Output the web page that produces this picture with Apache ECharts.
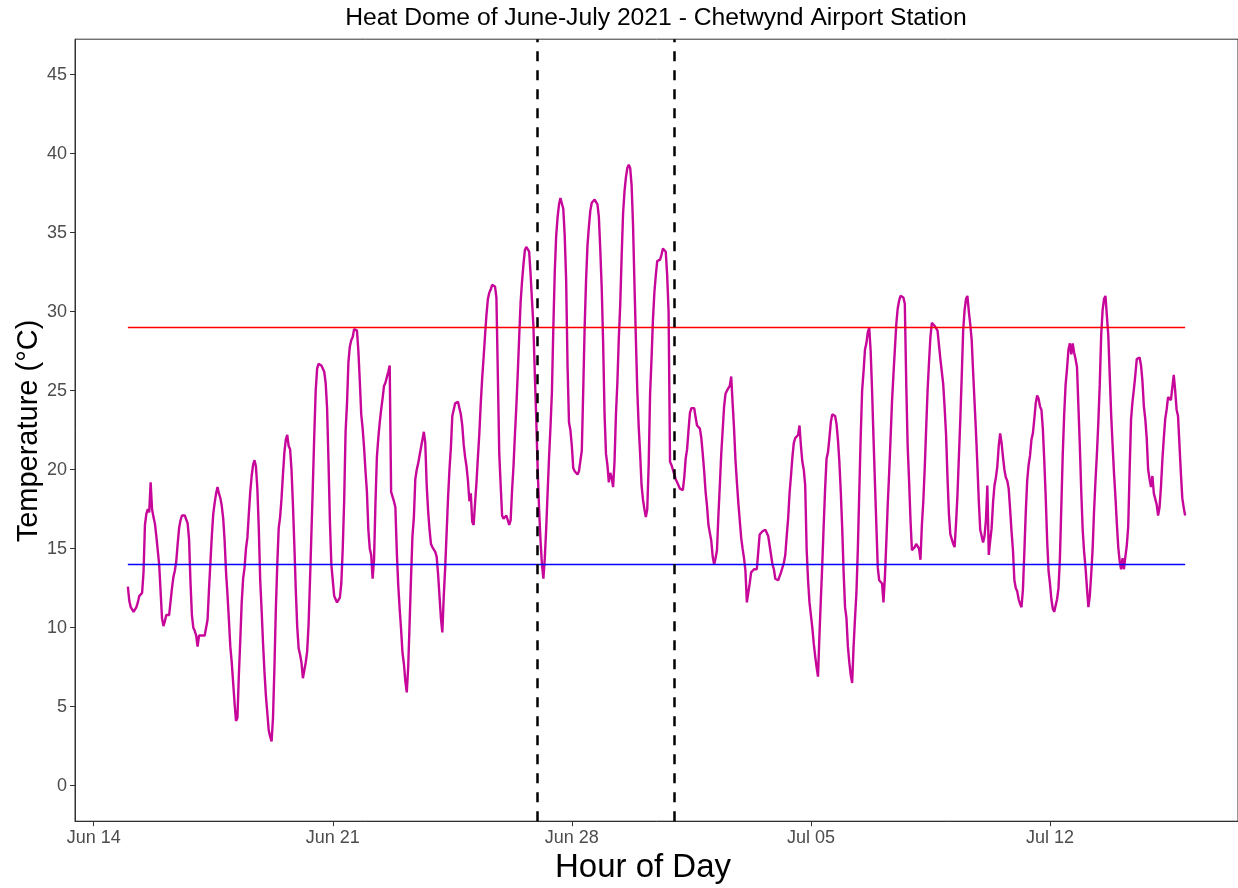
<!DOCTYPE html>
<html>
<head>
<meta charset="utf-8">
<title>Heat Dome - Chetwynd Airport</title>
<script src="https://cdn.jsdelivr.net/npm/echarts@6/dist/echarts.min.js"></script>
<style>
  html, body { margin: 0; padding: 0; background: #fff; }
  #chart { width: 1238px; height: 888px; }
</style>
</head>
<body>
<div id="chart"></div>
<script>
// hourly temperature (°C), one array per day, 00:00 .. 23:00
const jun15 = [12.6, 11.7, 11.3, 11.2, 11.0, 11.1, 11.3, 11.6, 12.0, 12.1, 12.2, 13.5, 16.5, 17.2, 17.5, 17.3, 19.2, 17.5, 17.0, 16.6, 15.8, 14.9, 14.0, 12.3];
const jun16 = [10.6, 10.1, 10.4, 10.8, 10.8, 10.8, 10.9, 12.5, 13.2, 13.6, 14.2, 15.3, 16.3, 16.8, 17.1, 17.1, 17.1, 17.0, 16.6, 15.6, 12.9, 10.8, 10.0, 9.8];
const jun17 = [9.5, 8.8, 9.5, 9.4, 9.5, 9.4, 9.5, 9.6, 10.5, 12.4, 14.1, 15.8, 17.2, 17.9, 18.5, 18.9, 18.5, 18.2, 17.7, 16.9, 15.5, 13.5, 12.1, 10.5];
const jun18 = [8.8, 7.8, 6.5, 5.2, 4.1, 4.3, 7.0, 9.2, 11.6, 13.1, 13.8, 15.0, 15.7, 17.2, 18.6, 19.6, 20.3, 20.6, 20.2, 18.8, 16.3, 13.0, 11.1, 9.0];
const jun19 = [7.2, 5.7, 4.6, 3.5, 3.1, 2.8, 4.3, 7.5, 11.2, 14.0, 16.3, 17.0, 18.2, 19.7, 21.1, 21.9, 22.2, 21.5, 21.3, 20.0, 17.8, 15.2, 12.4, 10.1];
const jun20 = [8.7, 8.3, 7.8, 6.8, 7.3, 7.8, 8.5, 10.2, 13.0, 16.0, 19.0, 22.2, 25.0, 26.4, 26.7, 26.7, 26.6, 26.7, 26.2, 25.5, 23.9, 20.5, 16.7, 14.0];
const jun21 = [13.0, 12.0, 11.8, 11.6, 11.7, 11.9, 12.8, 15.0, 18.0, 22.4, 24.2, 26.8, 27.8, 28.2, 28.4, 28.9, 28.9, 28.8, 27.5, 25.6, 23.5, 22.6, 21.4, 19.9];
const jun22 = [18.6, 16.2, 15.0, 14.6, 13.1, 14.3, 17.9, 20.8, 22.0, 23.0, 23.8, 24.5, 25.3, 25.5, 25.6, 26.2, 26.6, 18.6, 18.3, 18.0, 17.6, 14.8, 12.7, 11.2];
const jun23 = [9.9, 8.4, 7.7, 6.6, 5.9, 7.5, 10.3, 13.2, 15.8, 17.0, 19.4, 20.0, 20.4, 20.9, 21.4, 21.9, 22.4, 21.7, 19.0, 17.4, 16.2, 15.3, 15.1, 15.0];
const jun24 = [14.8, 14.5, 13.4, 12.0, 10.6, 9.7, 12.0, 13.8, 16.0, 18.2, 20.0, 21.4, 23.4, 23.8, 24.2, 24.3, 24.3, 24.3, 23.5, 22.8, 21.6, 20.8, 20.2, 19.3];
const jun25 = [18.0, 18.5, 16.7, 16.5, 17.9, 19.2, 20.8, 22.3, 24.2, 25.8, 27.1, 28.5, 29.8, 30.8, 31.2, 31.4, 31.7, 31.7, 31.6, 30.9, 26.0, 21.0, 19.0, 17.1];
const jun26 = [16.9, 17.0, 17.1, 17.0, 16.5, 16.8, 18.7, 20.2, 22.2, 24.0, 26.1, 28.4, 30.6, 31.9, 33.0, 33.9, 34.1, 34.1, 33.8, 32.4, 30.7, 29.1, 26.0, 23.2];
const jun27 = [20.0, 17.5, 15.5, 14.0, 13.1, 14.4, 16.3, 18.6, 20.8, 22.7, 24.9, 29.0, 32.5, 34.8, 36.0, 36.8, 37.2, 37.3, 36.5, 34.8, 32.0, 26.5, 23.0, 22.5];
const jun28 = [21.5, 20.1, 19.9, 19.8, 19.7, 19.9, 20.0, 21.2, 25.0, 29.0, 32.0, 34.2, 35.4, 36.4, 36.9, 37.0, 37.1, 37.0, 36.8, 36.0, 33.9, 31.5, 28.0, 23.5];
const jun29 = [21.0, 20.3, 19.2, 19.8, 19.5, 18.9, 20.5, 23.5, 25.5, 28.3, 30.4, 33.5, 36.2, 37.6, 38.5, 39.1, 39.3, 39.1, 38.0, 35.5, 31.8, 28.3, 25.0, 22.7];
const jun30 = [21.0, 19.0, 18.1, 17.5, 17.0, 17.5, 20.3, 24.8, 27.0, 29.5, 31.2, 32.3, 33.2, 33.2, 33.3, 33.6, 34.0, 34.0, 33.8, 32.3, 30.0, 20.5, 20.3, 20.0];
const jul01 = [19.7, 19.4, 19.2, 19.0, 18.8, 18.7, 18.7, 19.5, 20.7, 21.3, 22.5, 23.6, 23.9, 23.9, 23.9, 23.3, 22.8, 22.7, 22.6, 22.0, 21.0, 19.9, 18.6, 17.7];
const jul02 = [16.5, 16.0, 15.5, 14.5, 14.0, 14.4, 14.9, 17.1, 19.0, 21.0, 22.5, 24.0, 24.8, 25.0, 25.0, 25.3, 25.9, 24.2, 22.6, 20.6, 19.2, 17.9, 16.8, 15.7];
const jul03 = [15.0, 14.4, 13.6, 11.6, 11.5, 12.8, 13.5, 13.6, 13.7, 13.6, 13.7, 14.8, 15.9, 16.0, 16.1, 16.2, 16.2, 16.2, 15.8, 15.2, 14.6, 14.0, 13.7, 13.1];
const jul04 = [13.0, 13.0, 13.0, 13.5, 13.8, 14.1, 14.6, 15.8, 16.9, 18.5, 19.6, 20.8, 21.7, 22.0, 22.1, 22.2, 22.8, 21.5, 20.5, 20.0, 19.0, 15.0, 13.0, 11.6];
const jul05 = [10.8, 10.0, 9.0, 8.2, 7.5, 6.9, 9.5, 11.8, 14.0, 16.5, 18.8, 20.7, 21.1, 22.0, 23.0, 23.5, 23.5, 23.4, 22.9, 21.9, 20.5, 18.6, 16.3, 13.5];
const jul06 = [11.3, 10.6, 8.8, 7.8, 7.0, 6.5, 8.8, 10.6, 12.2, 15.0, 18.6, 22.1, 25.0, 26.2, 27.6, 28.0, 28.7, 29.0, 27.5, 25.0, 22.0, 19.2, 16.5, 13.8];
const jul07 = [13.0, 13.0, 12.8, 11.6, 13.2, 15.4, 17.8, 19.8, 22.0, 24.3, 26.0, 27.6, 29.2, 30.2, 30.7, 31.0, 31.0, 30.9, 30.5, 25.5, 21.5, 19.3, 16.8, 14.9];
const jul08 = [14.9, 15.1, 15.3, 15.3, 15.0, 14.3, 16.5, 18.0, 20.1, 22.6, 25.0, 26.8, 28.4, 29.3, 29.2, 29.1, 29.1, 28.8, 27.9, 27.0, 26.2, 25.4, 23.9, 22.2];
const jul09 = [19.5, 17.2, 15.9, 15.6, 15.3, 15.1, 16.6, 18.4, 20.8, 23.2, 25.9, 28.8, 30.1, 30.8, 31.0, 30.0, 29.2, 28.2, 26.2, 24.3, 22.4, 20.3, 18.0, 16.2];
const jul10 = [15.8, 15.4, 15.8, 16.8, 19.0, 14.6, 15.5, 16.3, 17.9, 19.0, 19.5, 20.2, 21.5, 22.3, 21.7, 20.8, 20.0, 19.5, 19.3, 18.8, 17.5, 16.1, 14.9, 13.0];
const jul11 = [12.5, 12.3, 11.8, 11.5, 11.3, 12.4, 14.8, 17.3, 19.3, 20.3, 20.9, 21.9, 22.3, 23.2, 24.2, 24.7, 24.5, 24.0, 23.8, 22.6, 20.6, 18.3, 15.6, 13.6];
const jul12 = [12.8, 11.8, 11.2, 11.0, 10.9, 11.8, 12.5, 14.4, 17.7, 21.0, 23.5, 25.4, 26.4, 27.6, 28.0, 27.3, 28.0, 27.4, 27.0, 26.5, 24.0, 21.5, 18.6, 16.2];
const jul13 = [14.8, 13.8, 12.5, 11.3, 12.0, 13.4, 15.0, 17.4, 19.3, 21.0, 23.0, 25.4, 28.5, 30.1, 30.8, 31.0, 31.0, 28.5, 26.0, 23.5, 21.6, 19.8, 18.3, 16.6];
const jul14 = [15.1, 14.2, 13.7, 14.4, 13.7, 14.5, 15.2, 16.4, 20.0, 23.2, 24.3, 25.1, 26.0, 27.0, 27.1, 27.1, 26.6, 25.6, 24.0, 23.2, 22.0, 20.0, 19.4, 18.9];
const jul15 = [19.6, 18.5, 18.4, 17.8, 17.1, 17.6, 18.9, 20.6, 22.0, 23.2, 23.8, 24.6, 24.6, 24.4, 24.5, 26.0, 25.0, 23.8, 23.4, 21.6, 19.8, 18.2, 17.6, 17.1];

// x axis is counted in hours from Jun 14 00:00
const firstHour = 24;                 // Jun 15 00:00
const tickHours = [0, 168, 336, 504, 672];
const tickLabels = ["Jun 14", "Jun 21", "Jun 28", "Jul 05", "Jul 12"];
const tempTicks = [0, 5, 10, 15, 20, 25, 30, 35, 40, 45];

const hotLimit = 29;
const coldLimit = 14;
const domeStart = 312;                // Jun 27 00:00
const domeEnd = 408;                  // Jul 01 00:00

const days = [jun15, jun16, jun17, jun18, jun19, jun20, jun21, jun22, jun23, jun24,
  jun25, jun26, jun27, jun28, jun29, jun30, jul01, jul02, jul03, jul04, jul05,
  jul06, jul07, jul08, jul09, jul10, jul11, jul12, jul13, jul14, jul15];

const temps = [].concat(...days);
const tempData = temps.map((t, i) => [firstHour + i, t]);
const lastHour = firstHour + temps.length - 1;

const chart = echarts.init(document.getElementById("chart"));

const font = "'Liberation Sans', Arial, sans-serif";

const option = {
  animation: false,
  backgroundColor: "#fff",
  grid: {
    left: 75,
    top: 39.2,
    width: 1164,
    height: 782,
    show: true,
    borderColor: "#333",
    borderWidth: 1
  },
  xAxis: {
    type: "value",
    min: -13.15,
    max: 804.15,
    splitLine: { show: false },
    axisLine: { onZero: false, lineStyle: { color: "#333", width: 1 } },
    axisTick: {
      customValues: tickHours,
      length: 5,
      lineStyle: { color: "#333", width: 1 }
    },
    axisLabel: {
      customValues: tickHours,
      formatter: v => tickLabels[tickHours.indexOf(v)],
      color: "#4d4d4d",
      fontSize: 18,
      fontFamily: font,
      margin: 8
    }
  },
  yAxis: {
    type: "value",
    min: -2.25,
    max: 47.25,
    splitLine: { show: false },
    axisLine: { onZero: false, lineStyle: { color: "#333", width: 1 } },
    axisTick: {
      customValues: tempTicks,
      length: 5,
      lineStyle: { color: "#333", width: 1 }
    },
    axisLabel: {
      customValues: tempTicks,
      color: "#4d4d4d",
      fontSize: 18,
      fontFamily: font,
      margin: 8
    }
  },
  series: [
    {
      name: "Temperature",
      type: "line",
      data: tempData,
      showSymbol: false,
      color: "#c6079a",
      lineStyle: { color: "#c6079a", width: 2.4 },
      z: 2
    },
    {
      name: "hot",
      type: "line",
      data: [[firstHour, hotLimit], [lastHour, hotLimit]],
      showSymbol: false,
      color: "#ff0000",
      itemStyle: { color: "#ff0000" },
      lineStyle: { color: "#ff0000", width: 1.3, opacity: 1 },
      z: 3
    },
    {
      name: "cold",
      type: "line",
      data: [[firstHour, coldLimit], [lastHour, coldLimit]],
      showSymbol: false,
      color: "#0000ff",
      lineStyle: { color: "#0000ff", width: 1.3 },
      z: 3
    },
    {
      name: "dome",
      type: "line",
      data: [],
      z: 4,
      markLine: {
        silent: true,
        symbol: "none",
        label: { show: false },
        lineStyle: { color: "#000", width: 2.5, type: [10, 9] },
        data: [{ xAxis: domeStart }, { xAxis: domeEnd }]
      }
    }
  ],
  graphic: [
    {
      type: "text",
      x: 656,
      y: 18,
      style: {
        text: "Heat Dome of June-July 2021 - Chetwynd Airport Station",
        font: "24.7px " + font,
        fill: "#000",
        align: "center",
        verticalAlign: "middle"
      }
    },
    {
      type: "text",
      x: 643,
      y: 868,
      style: {
        text: "Hour of Day",
        font: "33px " + font,
        fill: "#000",
        align: "center",
        verticalAlign: "middle"
      }
    },
    {
      type: "text",
      x: 29,
      y: 431,
      rotation: Math.PI / 2,
      style: {
        text: "Temperature (°C)",
        font: "29px " + font,
        fill: "#000",
        align: "center",
        verticalAlign: "middle"
      }
    }
  ]
};

chart.setOption(option);
</script>
</body>
</html>
